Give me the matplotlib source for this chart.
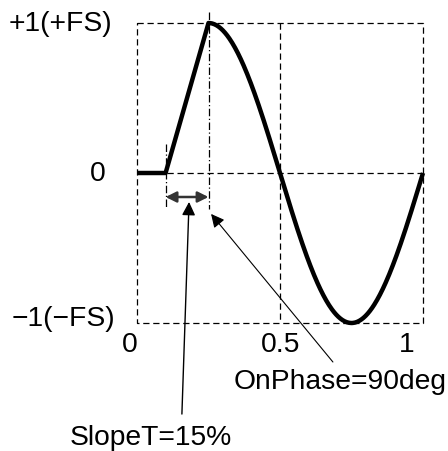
import numpy as np
import matplotlib
matplotlib.use("Agg")
import matplotlib.pyplot as plt

# ---- data ----
slope_t = 0.15          # SlopeT = 15 %
on_phase_deg = 90       # OnPhase = 90 deg
y_labels = ["+1(+FS)", "0", "\u22121(\u2212FS)"]
y_label_vals = [1, 0, -1]
x_tick_labels = ["0", "0.5", "1"]
x_tick_vals = [0, 0.5, 1]
slope_text = "SlopeT=15%"
phase_text = "OnPhase=90deg"

plt.rcParams['font.family'] = ['Liberation Sans', 'DejaVu Sans']

fig = plt.figure(figsize=(4.48, 4.52), dpi=100)
ax = fig.add_axes([0, 0, 1, 1])
ax.set_xlim(-137/286, (448-137)/286)
ax.set_ylim((174-452)/150, 174/150)
ax.axis('off')

on = on_phase_deg / 360.0
start = on - slope_t

# curve
x0 = np.array([0, start])
y0 = np.array([0, 0])
xr = np.array([start, on])
yr = np.array([0, np.sin(2*np.pi*on)])
xs = np.linspace(on, 1, 300)
ys = np.sin(2*np.pi*xs)
xc = np.concatenate([x0, xr, xs])
yc = np.concatenate([y0, yr, ys])
ax.plot(xc, yc, color='black', lw=3.2, solid_capstyle='butt', zorder=5)

# dashed grid
dash = dict(color='black', lw=0.9, ls=(0, (5, 3)))
ax.plot([0, 1, 1, 0, 0], [1, 1, -1, -1, 1], **dash)
ax.plot([0, 1], [0, 0], **dash)
ax.plot([0.5, 0.5], [1, -1], **dash)

# dash-dot markers
dd = dict(color='black', lw=0.9, ls=(0, (6, 2, 1, 2)))
ax.plot([start, start], [0.193, -0.227], **dd)
ax.plot([on, on], [1.073, -0.24], **dd)

# double arrow
ax.annotate('', xy=(start, -0.16), xytext=(on, -0.16),
            arrowprops=dict(arrowstyle='<|-|>', color='#333333', lw=1.8,
                            mutation_scale=16, shrinkA=0, shrinkB=0))

# annotation arrows
ax.annotate('', xy=(0.182, -0.193), xytext=(0.157, -1.607),
            arrowprops=dict(arrowstyle='-|>', color='black', lw=1.0,
                            mutation_scale=20, shrinkA=0, shrinkB=0))
ax.annotate('', xy=(0.259, -0.273), xytext=(0.685, -1.26),
            arrowprops=dict(arrowstyle='-|>', color='black', lw=0.8,
                            mutation_scale=20, shrinkA=0, shrinkB=0))

fs = 20.3
ax.text(0.049, -1.76, slope_text, ha='center', va='center', fontsize=fs)
ax.text(0.71, -1.387, phase_text, ha='center', va='center', fontsize=fs)

# y labels
y_lab_x = [-0.087, -0.108, -0.077]
y_lab_off = [0.0, 0.0, 0.03]
for lab, v, xx, off in zip(y_labels, y_label_vals, y_lab_x, y_lab_off):
    ax.text(xx, v + off, lab, ha='right', va='center', fontsize=fs)

# x tick labels
x_lab_pos = [-0.024, 0.503, 0.944]
for lab, xx in zip(x_tick_labels, x_lab_pos):
    ax.text(xx, -1.14, lab, ha='center', va='center', fontsize=fs)

fig.savefig('out.png', dpi=100)
